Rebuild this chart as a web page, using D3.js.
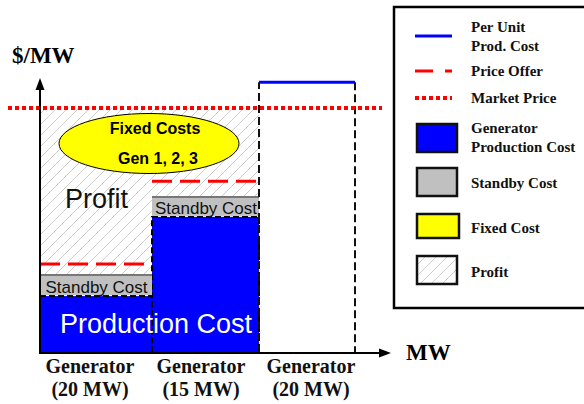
<!DOCTYPE html>
<html>
<head>
<meta charset="utf-8">
<script src="https://cdn.jsdelivr.net/npm/d3@7"></script>
<style>
  body { margin: 0; background: #fff; }
  svg { display: block; }
</style>
</head>
<body>
<svg id="vis"></svg>
<script>
// data
var genNames = ["Generator", "Generator", "Generator"];
var capacityMW = [20, 15, 20];
var capLabels = ["(20 MW)", "(15 MW)", "(20 MW)"];
var prodCost = [20.7, 49.5, 98.5];     // per unit production cost, $/MW
var standbyCost = [7.7, 7.2, 0];
var priceOffer = [32.4, 62.5, null];
var dispatched = [true, true, false];
var marketPrice = 89.1;

var legendItems = [
    {type: "line", kind: "solid", lines: ["Per Unit", "Prod. Cost"]},
    {type: "line", kind: "dash", lines: ["Price Offer"]},
    {type: "line", kind: "dot", lines: ["Market Price"]},
    {type: "rect", kind: "prod", lines: ["Generator", "Production Cost"]},
    {type: "rect", kind: "standby", lines: ["Standby Cost"]},
    {type: "rect", kind: "fixed", lines: ["Fixed Cost"]},
    {type: "rect", kind: "profit", lines: ["Profit"]}
];

var width = 584, height = 404;
var serif = "'Liberation Serif', 'Times New Roman', serif";
var sans = "'Liberation Sans', Arial, sans-serif";

var svg = d3.select("#vis")
    .attr("width", width)
    .attr("height", height);

// cumulative MW edges for each block
var edges = [0];
capacityMW.forEach(function(d, i) { edges.push(edges[i] + d); });

// blocks are not drawn to MW scale in the sketch, so a piecewise scale
var x = d3.scaleLinear()
    .domain(edges)
    .range([40, 152, 259, 355]);
var y = d3.scaleLinear()
    .domain([0, 100])
    .range([353, 78]);

var gens = genNames.map(function(d, i) {
    return {
        name: d, cap: capLabels[i],
        x0: x(edges[i]), x1: x(edges[i + 1]),
        prod: prodCost[i], standby: prodCost[i] + standbyCost[i],
        offer: priceOffer[i], on: dispatched[i]
    };
});

// hatch pattern
var defs = svg.append("defs");
var pat = defs.append("pattern")
    .attr("id", "hatch")
    .attr("patternUnits", "userSpaceOnUse")
    .attr("width", 11)
    .attr("height", 11);
pat.append("path")
    .attr("d", "M0,11 L11,0 M-3,3 L3,-3 M8,14 L14,8")
    .attr("stroke", "#b8b8b8")
    .attr("stroke-width", 0.7);

var onGens = gens.filter(function(d) { return d.on; });

// profit hatch
svg.append("g").selectAll("rect")
    .data(onGens)
    .enter().append("rect")
    .attr("x", function(d) { return d.x0; })
    .attr("y", y(marketPrice))
    .attr("width", function(d) { return d.x1 - d.x0; })
    .attr("height", function(d) { return y(d.standby) - y(marketPrice); })
    .attr("fill", "url(#hatch)");

// production cost
svg.append("g").selectAll("rect")
    .data(onGens)
    .enter().append("rect")
    .attr("x", function(d) { return d.x0; })
    .attr("y", function(d) { return y(d.prod); })
    .attr("width", function(d) { return d.x1 - d.x0; })
    .attr("height", function(d) { return y(0) - y(d.prod); })
    .attr("fill", "#0000ff")
    .attr("stroke", "#000")
    .attr("stroke-width", 2)
    .attr("stroke-dasharray", "6,3");

// standby cost
svg.append("g").selectAll("rect")
    .data(onGens)
    .enter().append("rect")
    .attr("x", function(d) { return d.x0; })
    .attr("y", function(d) { return y(d.standby); })
    .attr("width", function(d) { return d.x1 - d.x0; })
    .attr("height", function(d) { return y(d.prod) - y(d.standby) - 1; })
    .attr("fill", "#c0c0c0");
svg.append("g").selectAll("line")
    .data(onGens)
    .enter().append("line")
    .attr("x1", function(d) { return d.x0; })
    .attr("x2", function(d) { return d.x1; })
    .attr("y1", function(d) { return y(d.standby); })
    .attr("y2", function(d) { return y(d.standby); })
    .attr("stroke", "#777")
    .attr("stroke-width", 2);
svg.append("g").selectAll("text")
    .data(onGens)
    .enter().append("text")
    .attr("x", function(d) { return (d.x0 + d.x1) / 2 + 0.5; })
    .attr("y", function(d) { return y(d.prod) - 3; })
    .attr("text-anchor", "middle")
    .attr("font-family", sans)
    .attr("font-size", 17)
    .attr("fill", "#111")
    .text("Standby Cost");

// price offers
svg.append("g").selectAll("line")
    .data(gens.filter(function(d) { return d.offer != null; }))
    .enter().append("line")
    .attr("x1", function(d) { return d.x0; })
    .attr("x2", function(d, i) { return d.x1 - (i == 0 ? 7 : 1); })
    .attr("y1", function(d) { return y(d.offer); })
    .attr("y2", function(d) { return y(d.offer); })
    .attr("stroke", "#ff0000")
    .attr("stroke-width", 3)
    .attr("stroke-dasharray", "20,8");

// the generator that is not dispatched
var off = gens.filter(function(d) { return !d.on; });
svg.append("g").selectAll("path")
    .data(off)
    .enter().append("path")
    .attr("d", function(d) {
        return "M" + d.x0 + "," + y(0) + "V" + y(d.prod) + "M" + d.x1 + "," + y(d.prod) + "V" + y(0);
    })
    .attr("fill", "none")
    .attr("stroke", "#111")
    .attr("stroke-width", 2)
    .attr("stroke-dasharray", "8,4");
svg.append("g").selectAll("line")
    .data(off)
    .enter().append("line")
    .attr("x1", function(d) { return d.x0; })
    .attr("x2", function(d) { return d.x1; })
    .attr("y1", function(d) { return y(d.prod); })
    .attr("y2", function(d) { return y(d.prod); })
    .attr("stroke", "#0000ff")
    .attr("stroke-width", 3);

// market price
svg.append("line")
    .attr("x1", 8)
    .attr("x2", 382)
    .attr("y1", y(marketPrice))
    .attr("y2", y(marketPrice))
    .attr("stroke", "#ff0000")
    .attr("stroke-width", 4)
    .attr("stroke-dasharray", "4,3");

// fixed costs bubble
var bub = svg.append("g");
bub.append("ellipse")
    .attr("cx", 149)
    .attr("cy", 143.5)
    .attr("rx", 90)
    .attr("ry", 30)
    .attr("fill", "#ffff00")
    .attr("stroke", "#000")
    .attr("stroke-width", 1);
bub.selectAll("text")
    .data(["Fixed Costs", "Gen 1, 2, 3"])
    .enter().append("text")
    .attr("x", function(d, i) { return i == 0 ? 155 : 158; })
    .attr("y", function(d, i) { return 134 + i * 30; })
    .attr("text-anchor", "middle")
    .attr("font-family", sans)
    .attr("font-weight", "bold")
    .attr("font-size", 16)
    .text(function(d) { return d; });

// big labels
svg.append("text")
    .attr("x", 65)
    .attr("y", 208)
    .attr("font-family", sans)
    .attr("font-size", 27)
    .attr("fill", "#111")
    .text("Profit");
svg.append("text")
    .attr("x", 60)
    .attr("y", 333)
    .attr("font-family", sans)
    .attr("font-size", 27)
    .attr("fill", "#fff")
    .text("Production Cost");

// axes
svg.append("line")
    .attr("x1", 40).attr("x2", 40)
    .attr("y1", y(0) + 1).attr("y2", 86)
    .attr("stroke", "#000").attr("stroke-width", 2);
svg.append("path")
    .attr("d", "M40,78 L35.5,90 L44.5,90 Z")
    .attr("fill", "#000");
svg.append("line")
    .attr("x1", 39).attr("x2", 382)
    .attr("y1", y(0)).attr("y2", y(0))
    .attr("stroke", "#000").attr("stroke-width", 2);
svg.append("path")
    .attr("d", "M391," + y(0) + " L379," + (y(0) - 4.5) + " L379," + (y(0) + 4.5) + " Z")
    .attr("fill", "#000");

svg.append("text")
    .attr("x", 12).attr("y", 63)
    .attr("font-family", serif).attr("font-weight", "bold").attr("font-size", 23)
    .text("$/MW");
svg.append("text")
    .attr("x", 406).attr("y", 360)
    .attr("font-family", serif).attr("font-weight", "bold").attr("font-size", 23)
    .text("MW");

var cat = svg.append("g").selectAll("text")
    .data(gens)
    .enter().append("text")
    .attr("text-anchor", "middle")
    .attr("font-family", serif)
    .attr("font-weight", "bold")
    .attr("font-size", 20)
    .attr("fill", "#111");
cat.append("tspan")
    .attr("x", function(d, i) { return [90, 201, 311][i]; })
    .attr("y", 373)
    .text(function(d) { return d.name; });
cat.append("tspan")
    .attr("x", function(d, i) { return [90, 201, 311][i]; })
    .attr("y", 396)
    .text(function(d) { return d.cap; });

// legend
var leg = svg.append("g");
leg.append("rect")
    .attr("x", 394).attr("y", 7)
    .attr("width", 200).attr("height", 301)
    .attr("fill", "none")
    .attr("stroke", "#000")
    .attr("stroke-width", 2.5);

var legY = [36, 71, 98, 138, 182, 226, 270];
var legText = [32, 76, 103, 133, 188, 233, 277];

legendItems.forEach(function(d, i) {
    var g = leg.append("g");
    if (d.type == "line") {
        var ln = g.append("line")
            .attr("x1", 415).attr("x2", 452)
            .attr("y1", legY[i]).attr("y2", legY[i]);
        if (d.kind == "solid") ln.attr("stroke", "#0000ff").attr("stroke-width", 3);
        if (d.kind == "dash") ln.attr("stroke", "#ff0000").attr("stroke-width", 3).attr("stroke-dasharray", "18,12");
        if (d.kind == "dot") ln.attr("stroke", "#ff0000").attr("stroke-width", 4).attr("stroke-dasharray", "4,3");
    } else {
        var fill = {prod: "#0000ff", standby: "#c0c0c0", fixed: "#ffff00", profit: "url(#hatch)"}[d.kind];
        var h = d.kind == "fixed" ? 24 : 28;
        g.append("rect")
            .attr("x", 417).attr("y", legY[i] - h / 2)
            .attr("width", d.kind == "fixed" ? 42 : 40).attr("height", h)
            .attr("fill", fill)
            .attr("stroke", "#111")
            .attr("stroke-width", 2.5);
    }
    g.selectAll("text")
        .data(d.lines)
        .enter().append("text")
        .attr("x", 471)
        .attr("y", function(t, j) { return legText[i] + j * 19; })
        .attr("font-family", serif)
        .attr("font-weight", "bold")
        .attr("font-size", 15)
        .attr("fill", "#111")
        .text(function(t) { return t; });
});
</script>
</body>
</html>
